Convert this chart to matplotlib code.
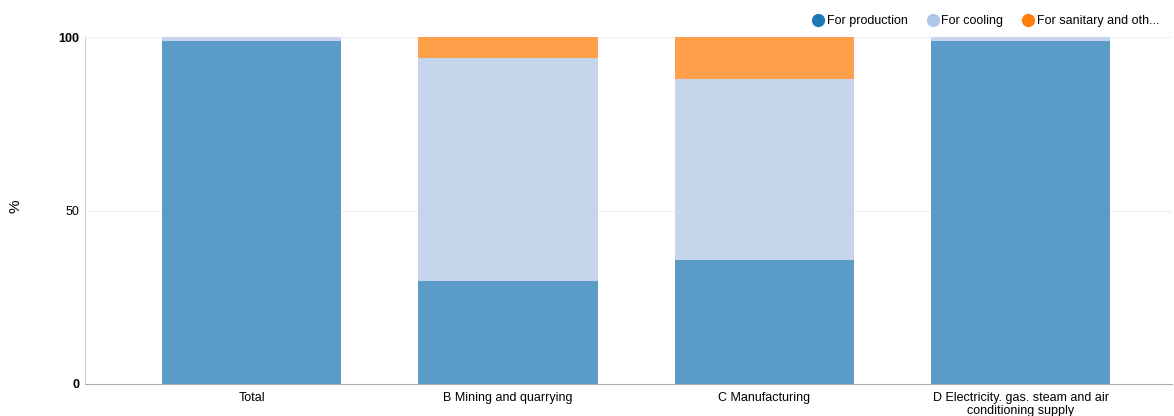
import matplotlib
matplotlib.use('Agg')
import matplotlib.pyplot as plt
from matplotlib.lines import Line2D
import numpy as np

plt.rcParams['font.family'] = ['Liberation Sans', 'DejaVu Sans']

# Données
categories = ['Total', 'B Mining and quarrying', 'C Manufacturing',
              'D Electricity. gas. steam and air\nconditioning supply']
production = [98.8, 29.7, 35.7, 98.8]
cooling = [1.2, 64.2, 52.2, 1.2]
sanitary = [0.0, 6.1, 12.1, 0.0]
series_names = ['For production', 'For cooling', 'For sanitary and oth...']

fig = plt.figure(figsize=(11.74, 4.16), dpi=100)
ax = fig.add_axes([85 / 1174, 32 / 416, 1087 / 1174, 347 / 416])

x = np.arange(len(categories))
w = 0.70
bottom2 = np.array(production) + np.array(cooling)
ax.bar(x, production, w, color='#5b9bc8', zorder=2)
ax.bar(x, cooling, w, bottom=production, color='#c4d5ec', zorder=2)
ax.bar(x, sanitary, w, bottom=bottom2, color='#ff9f4a', zorder=2)

ax.set_xlim(-0.65, 3.59)
ax.set_ylim(0, 100)
ax.set_yticks([0, 50, 100])
ax.set_yticklabels(['0', '50', '100'], fontsize=9)
for lab in ax.get_yticklabels():
    if lab.get_text() in ('0', '100'):
        lab.set_fontweight('bold')
ax.set_xticks(x)
ax.set_xticklabels(categories, fontsize=9, linespacing=1.1)
ax.tick_params(axis='y', length=0, pad=4)
ax.tick_params(axis='x', length=0, pad=6)
ax.grid(axis='y', color='#f0f0f0', lw=0.8, zorder=0)

for s in ['top', 'right']:
    ax.spines[s].set_visible(False)
ax.spines['left'].set_color('#d0d0d0')
ax.spines['bottom'].set_color('#aaaaaa')

fig.text(15 / 1174, 210 / 416, '%', rotation=90, fontsize=11, ha='center', va='center')

handles = [Line2D([], [], marker='o', ls='', markersize=8.5, color=c)
           for c in ['#1f77b4', '#aec7e8', '#ff7f0e']]
fig.legend(handles, series_names, loc='upper right', bbox_to_anchor=(0.995, 0.985),
           ncol=3, frameon=False, fontsize=9, handletextpad=-0.3, columnspacing=1.0,
           borderaxespad=0.3)

fig.savefig('out.png', dpi=100)
